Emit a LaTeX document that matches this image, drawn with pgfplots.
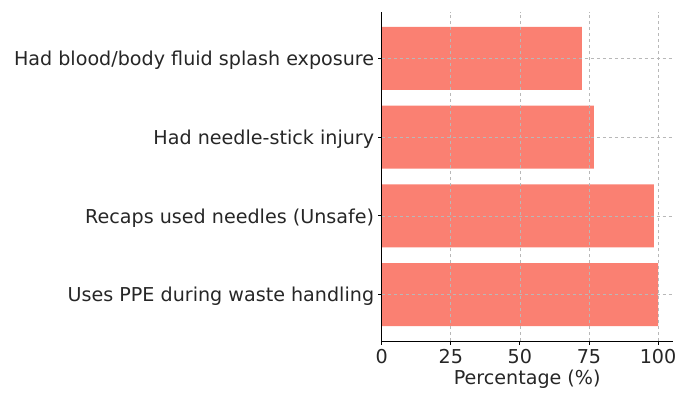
\documentclass[border=0pt]{standalone}
\usepackage{fontspec}
\setmainfont{DejaVu Sans}
\usepackage{pgfplots}
\pgfplotsset{compat=1.18}
\definecolor{salmon}{HTML}{FA8072}
\definecolor{txt}{HTML}{262626}
\begin{document}
\fontsize{19.2}{23}\selectfont
\begin{tikzpicture}
\path[use as bounding box] (-381.7bp,-53bp) rectangle (306.3bp,341bp);
\begin{axis}[
  at={(0,0)}, anchor=south west,
  scale only axis, width=291bp, height=329bp,
  xbar, bar width=0.8, bar shift=0pt,
  xmin=0, xmax=105.3, ymin=-0.59, ymax=3.59,
  ytick={0,1,2,3},
  yticklabels={Uses PPE during waste handling, Recaps used needles (Unsafe), Had needle-stick injury, Had blood/body fluid splash exposure},
  xtick={0,25,50,75,100},
  axis lines*=left,
  axis line style={black, line width=0.8pt},
  tick style={black, line width=0.8pt},
  tick align=outside, major tick length=3.5bp,
  xmajorgrids, ymajorgrids,
  grid style={dashed, color=black!28, line width=0.6pt},
  axis on top,
  ticklabel style={color=txt, font=\fontsize{19.2}{23}\selectfont},
  /pgf/number format/assume math mode=true,
  xlabel={Percentage (\%)},
  xlabel style={color=txt, font=\fontsize{19.2}{23}\selectfont, yshift=7bp},
  yticklabel style={xshift=2.5bp, yshift=-2bp},
  xticklabel style={yshift=1.5bp},
  clip=false,
]
\addplot[fill=salmon, draw=none] coordinates {(100,0) (98.5,1) (76.8,2) (72.4,3)};
\end{axis}
\end{tikzpicture}
\end{document}
